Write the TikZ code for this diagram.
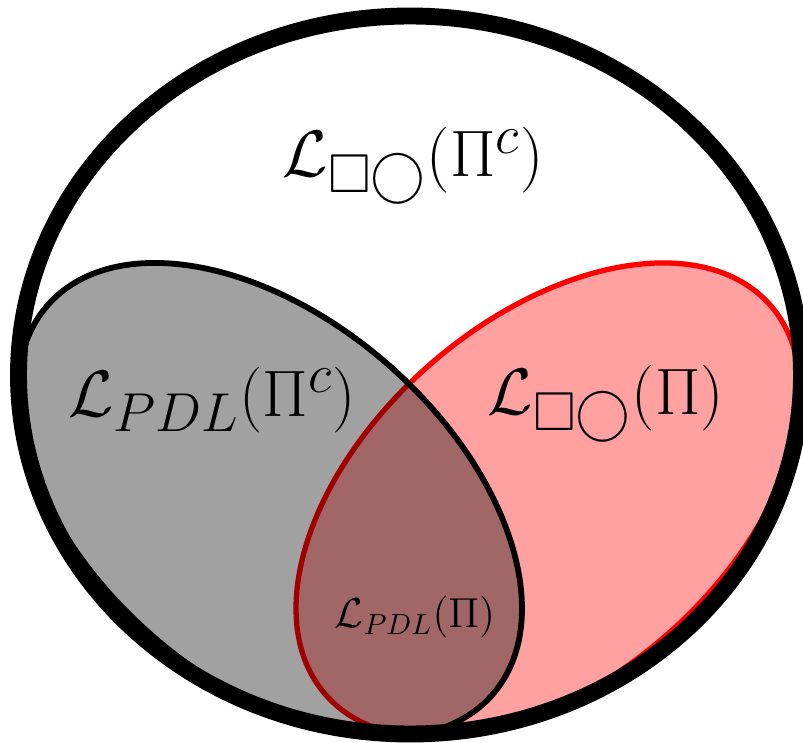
\documentclass[tikz,border=0pt]{standalone}
\usepackage{amsmath}
\usepackage{amssymb}
\usetikzlibrary{positioning}

\begin{document}
\begin{tikzpicture}[x=0.0133cm, y=0.0133cm,
    universe/.style={draw=black, line width=6.4pt},
    boxset/.style={fill=red, fill opacity=0.37, draw=red, line width=2pt},
    pdlset/.style={fill=black, fill opacity=0.37, draw=black, line width=2.2pt},
    lbl/.style={font=\Huge, anchor=base, inner sep=0pt},
    sublbl/.style={font=\Large, anchor=base, inner sep=0pt, scale=1.1},
]
    \useasboundingbox (0,0) rectangle (803,743);

    % the two sets, cut to the universe
    \begin{scope}
        \clip (410,368) ellipse (391.5 and 359);
        \path[boxset, rotate around={41.2:(548,243)}] (548,243) ellipse (295.6 and 179.7);
        \path[pdlset, rotate around={-41.2:(270,243)}] (270,243) ellipse (295.6 and 179.7);
    \end{scope}

    % universe
    \path[universe] (410,368) ellipse (391.5 and 359);

    % labels
    \node[lbl] (boxc) at (413,566) {$\mathcal{L}_{\Box\bigcirc}(\Pi^c)$};
    \node[lbl] (pdlc) at (212,326.5) {$\mathcal{L}_{PDL}(\Pi^c)$};
    \node[lbl] (boxpi) at (606,328) {$\mathcal{L}_{\Box\bigcirc}(\Pi)$};
    \node[sublbl] (pdlpi) at (415,115) {$\mathcal{L}_{PDL}(\Pi)$};
\end{tikzpicture}
\end{document}
